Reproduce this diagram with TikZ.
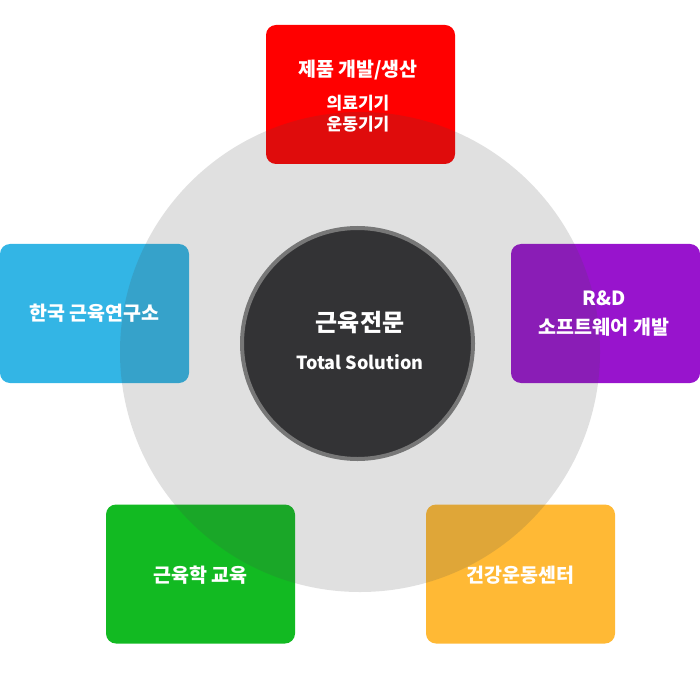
\documentclass[tikz,border=0pt]{standalone}
\usepackage{fontspec}
\setmainfont{Noto Sans CJK KR}
\definecolor{cred}{HTML}{FF0000}
\definecolor{cblue}{HTML}{33B5E5}
\definecolor{cpurple}{HTML}{9814CD}
\definecolor{cgreen}{HTML}{12BA22}
\definecolor{corange}{HTML}{FFB935}
\definecolor{ringgrey}{RGB}{70,74,74}
\definecolor{coredark}{HTML}{333335}
\definecolor{coreedge}{HTML}{777777}
\tikzset{
  box/.style={rounded corners=10pt, minimum width=189pt, minimum height=139pt, inner sep=0pt, fill=#1},
  lbl/.style={text=white, font=\bfseries\fontsize{19.5}{22}\selectfont, inner sep=0pt},
  sublbl/.style={text=white, font=\bfseries\fontsize{17}{19}\selectfont, inner sep=0pt},
}
\begin{document}
\begin{tikzpicture}[x=1pt,y=-1pt]
\useasboundingbox (0,0) rectangle (700,700);
% boxes
\node[box=cred] (red) at (360.5,94.5) {};
\node[box=cblue] (blue) at (94.5,313.5) {};
\node[box=cpurple] (purple) at (605.5,313.5) {};
\node[box=cgreen] (green) at (200.5,574) {};
\node[box=corange] (orange) at (520.5,574) {};
% big ring
\node[circle, minimum size=480pt, inner sep=0pt, fill=ringgrey, fill opacity=0.17] (ring) at (360,352) {};
% core
\node[circle, minimum size=231pt, inner sep=0pt, fill=coredark, draw=coreedge, line width=4pt] (core) at (357.5,343.5) {};
% texts
\node[lbl] (t1) at (358,70) {제품 개발/생산};
\node[sublbl] (t1a) at (358,102.7) {의료기기};
\node[sublbl] (t1b) at (358,124) {운동기기};
\node[text=white, font=\bfseries\fontsize{24}{26}\selectfont, inner sep=0pt] (c1) at (360,323) {근육전문};
\node[text=white, font=\bfseries\fontsize{18}{20}\selectfont, inner sep=0pt] (c2) at (360,362.5) {Total Solution};
\node[lbl] (t2) at (94.5,313) {한국 근육연구소};
\node[lbl] (t3a) at (604,298) {R\&D};
\node[lbl] (t3b) at (604,327) {소프트웨어 개발};
\node[lbl] (t4) at (200.5,575) {근육학 교육};
\node[lbl] (t5) at (520.5,575) {건강운동센터};
\end{tikzpicture}
\end{document}
